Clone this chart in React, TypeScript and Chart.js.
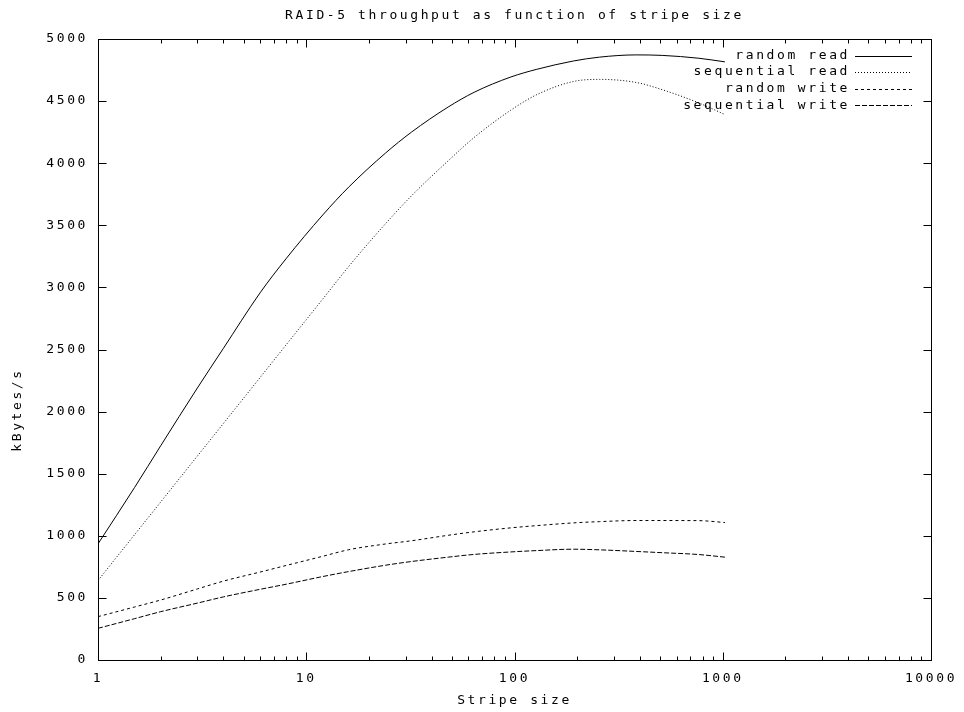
import { useEffect, useRef } from 'react';
import { Chart, registerables } from 'chart.js';

Chart.register(...registerables);

const chartTitle = 'RAID-5 throughput as function of stripe size';
const xAxisTitle = 'Stripe size';
const yAxisTitle = 'kBytes/s';

const stripeSizes = [1, 1.5, 2, 3, 4, 6, 8, 12, 16, 24, 32, 48, 64, 96, 128, 192, 256, 384, 512, 768, 1024];
const randomRead = [935, 1390, 1725, 2190, 2509, 2956, 3231, 3583, 3808, 4081, 4250, 4452, 4571, 4694, 4756, 4823, 4854, 4872, 4868, 4845, 4816];
const sequentialRead = [640, 1010, 1272, 1642, 1904, 2274, 2537, 2906, 3169, 3512, 3737, 4019, 4207, 4427, 4552, 4658, 4675, 4650, 4592, 4485, 4392];
const randomWrite = [349, 427, 483, 572, 635, 708, 761, 835, 888, 934, 960, 1004, 1032, 1064, 1082, 1104, 1114, 1123, 1123, 1122, 1107];
const sequentialWrite = [255, 333, 389, 458, 508, 569, 610, 672, 712, 763, 793, 828, 850, 870, 881, 892, 887, 874, 864, 849, 828];

const seriesNames = ['random read', 'sequential read', 'random write', 'sequential write'];
const seriesValues = [randomRead, sequentialRead, randomWrite, sequentialWrite];
const seriesDashes: number[][] = [[], [1, 2], [3, 3], [5, 2]];

const xTickValues = [1, 10, 100, 1000, 10000];
const yMin = 0;
const yMax = 5000;
const yStep = 500;

const FONT_FAMILY = '"DejaVu Sans Mono", "Liberation Mono", monospace';
const FONT = { family: FONT_FAMILY, size: 13, weight: 'normal' as const };
const X_TICK_FONT = { family: FONT_FAMILY, size: 13, weight: 'normal' as const, lineHeight: 2.0 };
const SPACING = '2.6px';

const spacingPlugin = {
  id: 'letterSpacing',
  beforeUpdate(chart: any) {
    chart.ctx.letterSpacing = SPACING;
  },
  beforeDraw(chart: any) {
    chart.ctx.letterSpacing = SPACING;
  },
};

const framePlugin = {
  id: 'gnuplotFrame',
  afterDraw(chart: any) {
    const { ctx, chartArea: a, scales } = chart;
    const xs = scales.x;
    const ys = scales.y;
    const L = Math.round(a.left) + 0.5;
    const R = Math.round(a.right) + 0.5;
    const T = Math.round(a.top) + 0.5;
    const B = Math.round(a.bottom) + 0.5;
    ctx.save();
    ctx.letterSpacing = SPACING;
    ctx.strokeStyle = '#000';
    ctx.fillStyle = '#000';
    ctx.lineWidth = 1;
    ctx.setLineDash([]);
    ctx.strokeRect(L, T, R - L, B - T);
    ctx.beginPath();
    ys.ticks.forEach((t: any) => {
      const py = Math.round(ys.getPixelForValue(t.value)) + 0.5;
      ctx.moveTo(L, py);
      ctx.lineTo(L + 8, py);
      ctx.moveTo(R, py);
      ctx.lineTo(R - 8, py);
    });
    for (let d = 0; d < xTickValues.length; d++) {
      const dec = xTickValues[d];
      for (let m = 1; m <= 9; m++) {
        const v = dec * m;
        if (v > xTickValues[xTickValues.length - 1]) break;
        const len = m === 1 ? 8 : 4;
        const px = Math.round(xs.getPixelForValue(v)) + 0.5;
        ctx.moveTo(px, B);
        ctx.lineTo(px, B - len);
        ctx.moveTo(px, T);
        ctx.lineTo(px, T + len);
      }
    }
    ctx.stroke();

    // legend (gnuplot style: text right-aligned, sample to the right)
    ctx.font = `13px ${FONT_FAMILY}`;
    ctx.textAlign = 'right';
    ctx.textBaseline = 'middle';
    chart.data.datasets.forEach((ds: any, i: number) => {
      const rowY = a.top + 16.5 + i * 16.6;
      ctx.fillText(ds.label, a.right - 81, rowY);
      ctx.setLineDash(ds.borderDash || []);
      ctx.beginPath();
      const ly = Math.round(rowY) + 0.5;
      ctx.moveTo(a.right - 76, ly);
      ctx.lineTo(a.right - 19, ly);
      ctx.stroke();
    });
    ctx.setLineDash([]);

    // y axis title
    ctx.save();
    ctx.translate(18, 410);
    ctx.rotate(-Math.PI / 2);
    ctx.textAlign = 'center';
    ctx.textBaseline = 'middle';
    ctx.fillText(yAxisTitle, 0, 0);
    ctx.restore();
    ctx.restore();
  },
};

export default function App() {
  const ref = useRef<HTMLCanvasElement | null>(null);
  useEffect(() => {
    if (!ref.current) return;
    const datasets = seriesNames.map((name, i) => ({
      label: name,
      data: stripeSizes.map((x, j) => ({ x, y: seriesValues[i][j] })),
      borderColor: '#000',
      backgroundColor: '#000',
      borderWidth: 1,
      borderDash: seriesDashes[i],
      pointRadius: 0,
      cubicInterpolationMode: 'monotone' as const,
      fill: false,
    }));
    const chart = new Chart(ref.current, {
      type: 'line',
      data: { datasets },
      plugins: [spacingPlugin, framePlugin],
      options: {
        animation: false,
        responsive: false,
        devicePixelRatio: 1,
        layout: { padding: { left: 0, right: 33, top: 0, bottom: 0 } },
        plugins: {
          legend: { display: false },
          tooltip: { enabled: false },
          title: {
            display: true,
            text: chartTitle,
            color: '#000',
            font: FONT,
            fullSize: false,
            padding: { top: 7.5, bottom: 15.9 },
          },
        },
        scales: {
          x: {
            type: 'logarithmic',
            min: xTickValues[0],
            max: xTickValues[xTickValues.length - 1],
            grid: { display: false, drawTicks: false },
            border: { display: false },
            afterBuildTicks: (scale: any) => {
              scale.ticks = xTickValues.map((v) => ({ value: v, major: true }));
            },
            afterFit: (scale: any) => {
              scale.height = 52;
            },
            ticks: {
              autoSkip: false,
              maxRotation: 0,
              color: '#000',
              font: X_TICK_FONT,
              padding: 6,
              callback: (v: any) => String(v),
            },
            title: {
              display: true,
              text: xAxisTitle,
              color: '#000',
              font: FONT,
              padding: { top: 0, bottom: 3.5 },
            },
          },
          y: {
            type: 'linear',
            min: yMin,
            max: yMax,
            grid: { display: false, drawTicks: false },
            border: { display: false },
            afterFit: (scale: any) => {
              scale.width = 98;
            },
            ticks: {
              stepSize: yStep,
              color: '#000',
              font: FONT,
              padding: 10,
              callback: (v: any) => String(v),
            },
          },
        },
      },
    });
    return () => chart.destroy();
  }, []);
  return (
    <div style={{ position: 'fixed', left: 0, top: 0, width: 964, height: 712, background: '#fff' }}>
      <canvas ref={ref} width={964} height={712} style={{ display: 'block' }} />
    </div>
  );
}
